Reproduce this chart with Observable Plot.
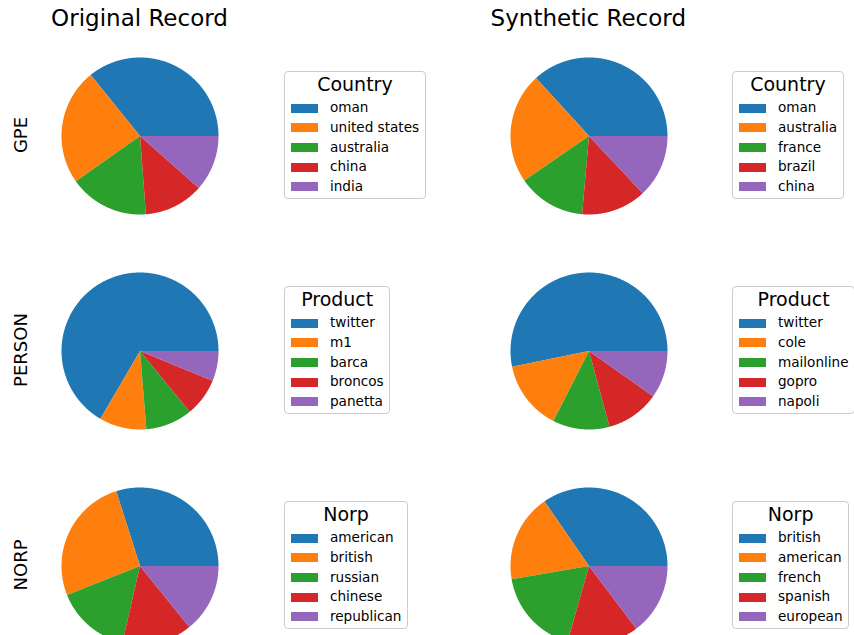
<!DOCTYPE html>
<html>
<head>
<meta charset="utf-8">
<script src="https://cdn.jsdelivr.net/npm/d3@7"></script>
<script src="https://cdn.jsdelivr.net/npm/@observablehq/plot@0.6"></script>
<style>
  html, body { margin: 0; padding: 0; background: #fff; }
  body { width: 854px; height: 635px; overflow: hidden; position: relative; font-family: "DejaVu Sans", sans-serif; color: #000; }
  .abs { position: absolute; }
  .coltitle { font-size: 23px; line-height: 23px; white-space: nowrap; transform: translateX(-50%); }
  .rowlabel { font-size: 18px; line-height: 18px; white-space: nowrap; transform: translate(-50%, -50%) rotate(-90deg); }
  .legend { position: absolute; box-sizing: border-box; height: 128.6px; border: 1px solid #cccccc; border-radius: 4px; background: #fff; padding: 0 5.4px 0 5.4px; white-space: nowrap; }
  .ltitle { font-size: 19px; line-height: 19px; height: 19px; margin-top: 3.2px; margin-bottom: 4.6px; text-align: center; }
  .lrow { display: flex; align-items: center; height: 19.6px; font-size: 13.6px; line-height: 19.6px; }
  .sw { width: 27.6px; height: 9px; margin-right: 11.7px; flex: none; }
</style>
</head>
<body>
<script>
// ---- data ----
const colTitles = ["Original Record", "Synthetic Record"];
const rowLabels = ["GPE", "PERSON", "NORP"];
const legendTitles = ["Country", "Product", "Norp"];
const colors = ["#1f77b4", "#ff7f0e", "#2ca02c", "#d62728", "#9467bd"];

const gpeOrigLabels = ["oman", "united states", "australia", "china", "india"];
const gpeOrigValues = [35.8, 24.0, 16.4, 12.3, 11.5];
const gpeSynthLabels = ["oman", "australia", "france", "brazil", "china"];
const gpeSynthValues = [36.8, 22.8, 14.0, 13.4, 13.0];

const personOrigLabels = ["twitter", "m1", "barca", "broncos", "panetta"];
const personOrigValues = [66.6, 9.7, 9.6, 7.9, 6.2];
const personSynthLabels = ["twitter", "cole", "mailonline", "gopro", "napoli"];
const personSynthValues = [53.2, 14.3, 11.7, 11.0, 9.8];

const norpOrigLabels = ["american", "british", "russian", "chinese", "republican"];
const norpOrigValues = [29.9, 26.1, 15.4, 14.4, 14.2];
const norpSynthLabels = ["british", "american", "french", "spanish", "european"];
const norpSynthValues = [34.6, 18.1, 17.9, 14.7, 14.7];

const panels = [
  [[gpeOrigLabels, gpeOrigValues], [gpeSynthLabels, gpeSynthValues]],
  [[personOrigLabels, personOrigValues], [personSynthLabels, personSynthValues]],
  [[norpOrigLabels, norpOrigValues], [norpSynthLabels, norpSynthValues]]
];

// ---- layout ----
const R = 78.5;
const colCx = [139.5, 588.3];
const rowCy = [135, 350, 565];
const legendLeft = [284.3, 732.3];
const legendTop = [70.7, 285.7, 500.7];

function slicePoints(labels, values) {
  const total = d3.sum(values);
  const pts = [];
  let cum = 0;
  labels.forEach((label, i) => {
    const a0 = 2 * Math.PI * cum / total;
    cum += values[i];
    const a1 = 2 * Math.PI * cum / total;
    pts.push({label, x: 0, y: 0});
    const n = Math.max(2, Math.ceil((a1 - a0) / (Math.PI / 360)));
    for (let k = 0; k <= n; k++) {
      const a = a0 + (a1 - a0) * k / n;
      pts.push({label, x: Math.cos(a), y: Math.sin(a)});
    }
  });
  return pts;
}

function addDiv(cls, text, left, top) {
  const d = document.createElement("div");
  d.className = "abs " + cls;
  d.textContent = text;
  d.style.left = left + "px";
  d.style.top = top + "px";
  document.body.appendChild(d);
  return d;
}

// column titles (baseline ~26.5)
colTitles.forEach((t, c) => addDiv("coltitle", t, colCx[c], 7));
// row labels
rowLabels.forEach((t, r) => addDiv("rowlabel", t, 20.8, rowCy[r]));

panels.forEach((row, r) => {
  row.forEach(([labels, values], c) => {
    const chart = Plot.plot({
      width: 2 * R,
      height: 2 * R,
      margin: 0,
      x: {domain: [-1, 1], axis: null},
      y: {domain: [-1, 1], axis: null},
      color: {domain: labels, range: colors},
      marks: [
        Plot.line(slicePoints(labels, values), {x: "x", y: "y", z: "label", fill: "label", stroke: "none", curve: "linear"})
      ]
    });
    chart.style.position = "absolute";
    chart.style.left = (colCx[c] - R) + "px";
    chart.style.top = (rowCy[r] - R) + "px";
    chart.style.overflow = "visible";
    document.body.appendChild(chart);

    const lg = document.createElement("div");
    lg.className = "legend";
    lg.style.left = legendLeft[c] + "px";
    lg.style.top = legendTop[r] + "px";
    const tt = document.createElement("div");
    tt.className = "ltitle";
    tt.textContent = legendTitles[r];
    lg.appendChild(tt);
    labels.forEach((lab, i) => {
      const rowEl = document.createElement("div");
      rowEl.className = "lrow";
      const sw = document.createElement("span");
      sw.className = "sw";
      sw.style.background = colors[i];
      const tx = document.createElement("span");
      tx.textContent = lab;
      rowEl.appendChild(sw);
      rowEl.appendChild(tx);
      lg.appendChild(rowEl);
    });
    document.body.appendChild(lg);
  });
});
</script>
</body>
</html>
